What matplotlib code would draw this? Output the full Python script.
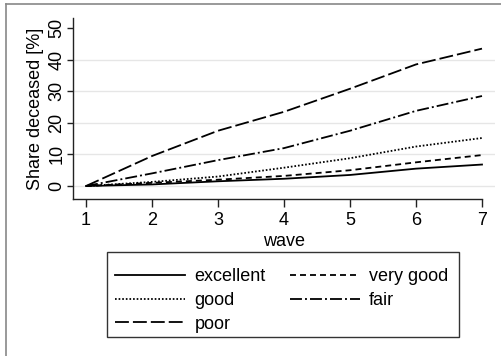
import matplotlib
matplotlib.use("Agg")
import matplotlib.pyplot as plt
from matplotlib.lines import Line2D
from matplotlib.patches import Rectangle

waves = [1, 2, 3, 4, 5, 6, 7]
excellent = [0, 0.5, 1.5, 2.3, 3.5, 5.5, 6.8]
very_good = [0, 1.0, 2.0, 3.2, 5.0, 7.5, 9.8]
good = [0, 1.3, 3.0, 5.8, 8.8, 12.5, 15.2]
fair = [0, 4.0, 8.2, 12.0, 17.5, 23.8, 28.5]
poor = [0, 9.5, 17.5, 23.5, 30.8, 38.5, 43.5]
labels = ["excellent", "very good", "good", "fair", "poor"]
yticks = [0, 10, 20, 30, 40, 50]

plt.rcParams['font.family'] = ['Liberation Sans', 'DejaVu Sans']
plt.rcParams['lines.scale_dashes'] = False

W, H = 502, 356
fig = plt.figure(figsize=(W / 100, H / 100), dpi=100)

def fx(px):
    return px / W

def fy(py):
    return 1 - py / H

ax = fig.add_axes([fx(73), fy(199), fx(495) - fx(73), fy(18) - fy(199)])
ax.set_xlim(0.803, 7.197)
ax.set_ylim(-4.11, 53.2)

for g in [0, 10, 20, 30, 40]:
    ax.axhline(g, color='#e6e6e6', lw=1.0, zorder=0)

styles = [
    (excellent, '-'),
    (very_good, (0, (4.3, 2.9))),
    (good, (0, (1.2, 1.4))),
    (fair, (0, (8.6, 2.2, 1.4, 2.2))),
    (poor, (0, (10.0, 2.9))),
]
handles = []
for (vals, ls), lab in zip(styles, labels):
    h, = ax.plot(waves, vals, color='black', lw=1.3, linestyle=ls, label=lab)
    handles.append(h)

for s in ['top', 'right']:
    ax.spines[s].set_visible(False)
ax.spines['left'].set_bounds(-4.11, 53.2)
ax.spines['bottom'].set_bounds(0.803, 7)
for s in ['left', 'bottom']:
    ax.spines[s].set_color('#222222')
    ax.spines[s].set_linewidth(1.0)

ax.set_xticks(waves)
ax.set_yticks(yticks)
ax.set_yticklabels([str(v) for v in yticks], rotation=90, va='center')
ax.tick_params(axis='both', labelsize=13, direction='out', width=1.0, color='#222222')
ax.tick_params(axis='y', pad=1, length=4.5)
ax.tick_params(axis='x', pad=4, length=5.5)
ax.set_xlabel('wave', fontsize=13, labelpad=3)
ax.set_ylabel('Share deceased [%]', fontsize=13, labelpad=3)

# legend frame
fig.patches.append(Rectangle((fx(107), fy(337)), fx(459) - fx(107), fy(252) - fy(337),
                             transform=fig.transFigure, fill=False, edgecolor='#333333', lw=1.0))
order = [0, 2, 4, 1, 3]
leg = fig.legend(handles=[handles[i] for i in order], labels=[labels[i] for i in order],
                 ncol=2, loc='upper left',
                 bbox_to_anchor=(fx(115), fy(268)), frameon=False, fontsize=13,
                 handlelength=3.9, handletextpad=0.5, columnspacing=1.33,
                 labelspacing=0.38, borderpad=0, borderaxespad=0)

# outer frame (partially visible)
fig.add_artist(Line2D([fx(6), fx(6)], [fy(4), fy(H + 10)], transform=fig.transFigure,
                      color='#888888', lw=1.2))
fig.add_artist(Line2D([fx(6), fx(W + 10)], [fy(4), fy(4)], transform=fig.transFigure,
                      color='#888888', lw=1.2))

fig.savefig('out.png', dpi=100)
